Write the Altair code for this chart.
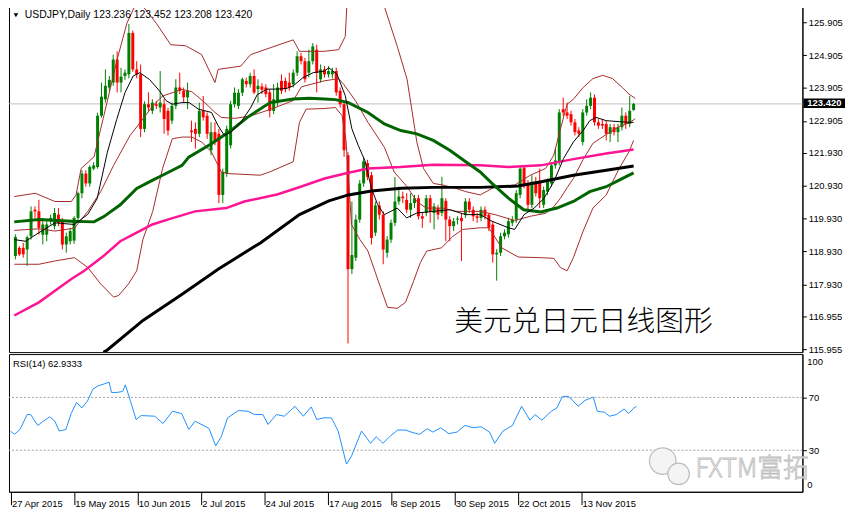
import altair as alt
import pandas as pd

# ---------------- data ----------------
date_labels = ["27 Apr 2015", "19 May 2015", "10 Jun 2015", "2 Jul 2015", "24 Jul 2015",
               "17 Aug 2015", "8 Sep 2015", "30 Sep 2015", "22 Oct 2015", "13 Nov 2015"]
date_label_idx = [0, 16, 32, 48, 64, 80, 96, 112, 128, 144]

opens = [118.79,119.04,119.04,118.99,119.39,120.20,120.15,119.44,119.44,119.85,
119.70,120.05,119.85,119.14,119.24,119.26,119.95,120.70,121.30,121.00,
121.45,121.50,123.06,123.56,123.92,124.07,124.77,124.07,124.27,124.32,
125.58,124.47,124.32,122.66,123.41,123.21,123.41,123.31,123.41,123.21,
122.91,123.36,123.92,123.82,123.62,122.61,122.66,122.51,123.21,123.06,
122.01,122.56,122.51,120.65,121.30,122.16,123.41,123.36,123.76,124.12,
124.02,124.27,123.87,123.95,123.92,123.77,123.21,123.46,124.12,124.12,
124.07,124.02,124.37,124.87,124.72,124.37,124.72,125.07,124.17,124.47,
124.32,124.32,124.42,123.82,123.41,121.86,118.39,118.74,119.90,121.00,
121.62,121.25,119.50,120.33,120.05,118.89,119.29,119.80,120.45,120.60,
120.50,120.20,120.40,120.55,120.00,120.10,120.55,120.10,120.25,120.10,
120.47,119.90,119.70,119.90,119.95,120.05,120.45,120.20,120.00,119.95,
120.20,120.05,119.75,118.84,118.89,119.39,119.45,119.80,119.90,120.65,
121.48,121.00,120.35,121.05,121.05,120.35,120.75,121.00,121.55,121.65,
123.26,123.16,123.11,122.86,122.61,122.26,123.16,123.36,123.61,122.86,
122.81,122.81,122.51,122.71,122.56,122.71,123.06,122.81,123.236]

highs = [119.45,119.09,119.19,119.41,120.30,120.30,120.50,119.95,119.85,120.05,
120.25,120.25,119.95,119.50,119.65,120.00,120.75,121.40,121.40,121.55,
121.65,123.15,124.07,124.47,124.27,124.92,125.02,124.52,124.47,125.85,
125.65,124.72,124.62,123.50,123.77,123.56,123.51,124.42,123.56,123.30,
123.46,124.17,124.37,123.92,124.07,122.91,122.86,123.46,123.66,123.16,
122.86,122.86,122.66,121.45,122.76,123.51,123.92,123.87,124.22,124.22,
124.37,124.47,124.17,124.05,124.02,123.87,124.02,124.07,124.32,124.22,
124.37,124.47,125.02,124.97,124.82,125.07,125.27,125.22,124.62,124.57,
124.57,124.52,124.52,123.92,123.46,121.95,120.45,120.05,121.10,121.80,
121.72,121.35,120.45,120.45,120.15,119.40,119.90,121.20,120.90,120.75,
120.70,120.70,120.65,120.65,120.10,120.65,120.65,120.40,120.35,121.20,
120.55,120.00,119.95,120.00,120.10,120.55,120.55,120.30,120.10,120.30,
120.30,120.10,119.85,119.00,119.50,119.60,119.95,120.00,120.80,121.55,
121.55,121.10,121.25,121.20,121.45,120.90,121.15,121.65,122.06,123.26,
123.61,123.46,123.21,122.96,122.71,123.26,123.56,123.77,123.71,122.96,
122.96,122.91,122.81,122.81,122.81,123.31,123.16,123.66,123.452]

lows = [118.69,118.79,118.74,118.49,119.29,119.95,119.44,119.14,119.24,119.75,
119.60,119.70,118.99,118.89,119.14,119.16,119.85,120.55,120.90,120.90,
121.40,121.45,123.00,123.46,123.80,123.97,123.77,123.77,124.15,124.20,
124.40,124.20,122.41,122.56,123.20,123.11,123.26,123.16,122.51,122.46,
122.81,123.26,123.72,123.46,123.26,122.26,122.06,122.41,122.91,122.36,
121.86,122.16,120.40,120.40,121.20,122.06,123.31,123.26,123.66,123.92,
123.92,123.72,123.46,123.72,123.62,123.01,123.11,123.36,123.72,123.77,
123.82,123.92,124.27,124.62,124.07,124.22,124.62,123.77,124.07,124.22,
124.22,124.20,123.67,123.31,121.81,116.13,118.24,118.64,119.80,120.90,
121.10,119.14,119.40,119.90,118.54,118.74,119.19,119.70,120.35,120.40,
120.10,119.95,120.25,119.90,119.65,120.00,119.80,119.60,119.90,120.00,
119.24,119.24,119.55,119.75,118.64,119.95,120.10,119.85,119.80,119.85,
119.90,119.55,118.59,118.04,118.79,119.30,119.35,119.70,119.80,120.55,
120.85,120.15,120.25,120.60,120.25,120.25,120.65,120.90,121.45,121.55,
123.05,122.96,122.76,122.46,122.41,122.16,123.06,123.26,122.76,122.66,
122.66,122.31,122.26,122.46,122.26,122.61,122.66,122.71,123.208]

closes = [119.37,118.84,118.84,119.36,120.15,120.15,119.65,119.75,119.75,119.95,
120.10,119.80,119.14,119.39,119.55,119.95,120.70,121.30,121.00,121.50,
121.55,123.06,123.64,123.97,124.15,124.77,124.07,124.25,124.37,125.58,
124.47,124.32,122.66,123.41,123.31,123.46,123.36,123.46,122.96,122.61,
123.36,123.92,123.82,123.62,123.82,122.56,122.51,123.21,123.01,122.51,
122.56,122.26,120.65,121.35,122.66,123.41,123.76,123.76,124.17,124.02,
124.27,123.77,123.97,123.85,123.72,123.21,123.56,123.92,123.82,123.87,
123.92,124.37,124.87,124.72,124.17,124.72,125.17,124.37,124.47,124.32,
124.42,124.42,123.77,123.41,122.01,118.39,118.82,119.90,121.00,121.67,
121.20,119.34,120.33,120.05,118.99,119.29,119.80,120.45,120.60,120.55,
120.20,120.40,120.55,120.00,119.93,120.55,120.15,120.30,120.05,120.55,
119.90,119.70,119.85,119.93,119.85,120.45,120.20,120.00,119.95,120.20,
120.00,119.65,118.84,118.89,119.39,119.50,119.85,119.90,120.70,121.45,
120.95,120.35,121.05,120.70,120.55,120.80,121.05,121.55,121.70,123.16,
123.16,123.06,122.86,122.56,122.51,123.16,123.36,123.61,122.86,122.76,
122.76,122.51,122.71,122.56,122.71,123.06,122.81,123.21,123.420]

# fast moving average (thin black)
ma_fast_idx = [-0.3,2.6,6,10.1,15.1,18.5,20.9,23.5,25.9,28.0,30.1,31.8,34.3,36.8,38.5,40.1,42.6,44.4,46.8,50.1,
               51.8,53.4,55.1,57.6,60.1,61.8,64.3,66.8,69.3,71,73.5,76.1,79,80.1,82.2,84.3,86,87.6,89.3,91,
               92.6,94.3,97.6,100,102.6,106.8,111,115.1,118.8,121.8,126,127.6,130,132.6,135.1,137.6,140.1,142.6,145.1,146.8,
               148.4,151,154.3,156.8,158]
ma_fast_val = [119.29,119.24,119.50,119.80,119.75,120.06,120.54,121.95,122.95,123.76,124.27,124.37,124.16,123.82,123.52,123.41,123.46,123.46,123.26,123.16,
               122.76,122.46,122.56,122.86,123.30,123.70,123.87,123.87,123.89,123.97,124.22,124.37,124.42,124.52,124.32,123.67,122.66,122.16,121.70,120.85,
               120.35,120.05,120.25,119.95,120.10,120.15,120.20,120.05,120.05,119.85,119.65,119.60,120.05,120.25,120.55,121.05,121.76,122.26,122.61,122.91,
               123.01,122.91,122.88,122.86,122.86]

# medium moving average (thick green)
ma_green_idx = [-0.3,6,14.3,20.1,22.6,26.8,31,35.1,37.6,42.6,44.3,50.1,55.1,59.3,65.1,71,75.1,79,81.8,85.1,
                90.1,94.3,98.5,102.6,106.8,111,115.1,118.8,121.8,126,129.9,134.3,138.4,142.6,146.8,151,154.3,158]
ma_green_val = [119.83,119.90,119.85,119.83,119.99,120.35,120.85,121.10,121.25,121.55,121.80,122.21,122.61,123.01,123.46,123.57,123.59,123.57,123.55,123.46,
                123.16,122.81,122.61,122.51,122.31,122.01,121.66,121.35,121.00,120.55,120.20,120.13,120.25,120.45,120.75,120.90,121.10,121.32]

# slow moving average (magenta)
ma_pink_idx = [-0.3,6,14.3,17.6,22.6,26.8,31,35,38.9,45.9,53.9,58.5,67.1,72.9,79,84.3,90.1,98.4,106.8,118.8,
               126,134.3,142.6,151,158]
ma_pink_val = [116.98,117.38,118.09,118.34,118.80,119.24,119.50,119.75,119.90,120.15,120.25,120.45,120.67,120.90,121.15,121.30,121.455,121.50,121.57,121.55,
               121.50,121.55,121.74,121.91,122.03]

# slowest moving average (thick black)
ma_black_idx = [22.5,23.5,32.6,42.6,51.8,62.6,72.6,80.1,85.1,91,98.6,106.8,118.8,128.5,134.4,142.6,151,158]
ma_black_val = [115.86,115.93,116.83,117.63,118.39,119.19,120.05,120.47,120.65,120.77,120.85,120.88,120.88,120.92,121.05,121.25,121.40,121.53]

# Bollinger bands (brown)
bb_up_idx = [-0.3,5.1,10.1,14.3,15.5,16.8,20.1,22.6,26,28.5,30.5,31.5,32.6,36,39.7,43.5,47.6,51,51.8,57.6,
             60.1,71,72.6,78.9,82.6,84.3,84.7,87.5,91,93.8,94.3,97.6,100.1,102.6,104.3,106.8,109.3,112.6,115.1,118.8,
             122.6,127.6,131.6,135.5,137.6,139.3,141,142.6,145.1,147.6,150.1,152.6,155.1,156.8,158.4]
bb_up_val = [120.60,120.70,120.45,120.45,120.65,121.455,121.81,123.06,124.77,125.88,126.39,126.60,126.39,125.875,125.22,125.19,124.92,124.07,124.47,124.57,
             124.92,125.37,125.02,125.02,125.07,125.47,126.39,127.60,127.80,126.70,126.38,125.17,124.17,122.26,121.455,121.00,120.95,120.85,120.75,120.65,
             120.90,120.95,121.25,121.455,121.86,122.66,123.41,123.56,123.92,124.19,124.29,124.19,123.92,123.72,123.59]

bb_mid_idx = [-0.3,6,10.1,15.1,18.5,21.8,25.1,29.3,32.6,35.1,37.6,42.6,45.1,48.4,51,52.6,56,60,65.1,71,
              73.1,78.9,82.6,84,87,90.1,94.3,96.8,100.1,102.6,105,109.3,112.6,118.8,122.6,127.6,131.6,135.5,137.6,139.3,
              141,142.6,145.1,147.6,151,154.3,156.8,158.4]
bb_mid_val = [119.57,119.62,119.55,119.64,120.15,120.75,121.55,122.46,122.96,123.36,123.66,123.86,123.79,123.46,123.16,123.01,122.98,123.05,123.25,123.52,
              123.94,124.12,124.19,124.00,123.50,122.86,122.10,121.35,120.90,120.45,120.25,120.25,120.15,120.15,120.05,119.87,120.00,120.09,120.29,120.55,
              120.87,121.15,121.73,122.22,122.49,122.73,122.84,122.97]

bb_lo_idx = [-0.3,6,10.1,15.1,18.5,21.8,25.1,26.4,28.9,31,32.6,35.1,37.6,40.1,42.6,45.1,47.6,50.1,52.6,54.3,
             62.6,65.1,71,72.6,74.3,78.9,81.8,83.5,84.5,85.9,88,90.1,93.3,95.1,97.6,99.7,101.8,103.5,105.1,108.9,
             111.8,114.3,118.8,121,124.3,128.5,134.3,137.6,139.3,141,142.6,145.1,147.6,151,154.3,156.8,158]
bb_lo_val = [118.54,118.54,118.64,118.74,118.44,117.94,117.54,117.59,117.94,118.34,119.30,120.15,121.45,122.36,122.41,122.41,122.26,121.96,121.355,121.30,
             121.25,121.355,121.66,122.86,123.26,123.28,123.31,123.06,122.30,119.75,119.30,118.94,117.84,117.23,117.20,117.38,118.04,118.59,118.94,119.04,
             119.39,119.60,119.65,119.65,119.04,118.76,118.74,118.72,118.44,118.34,118.74,119.55,120.25,120.65,121.455,121.96,122.31]

# RSI(14)
rsi_idx = [0,1.0,2.4,4.2,5.1,6.9,8.3,9.9,11.2,12.3,14,15.3,16.7,18,19.4,20.8,22.1,24.2,24.9,25.5,
           26.9,28.3,29,30.3,31.7,33,36.4,38.5,40.9,43.2,45,46.6,50.1,51.8,53.2,54.8,57.5,60,61.6,63.7,
           65,67.1,69.1,71.8,73.9,75.9,77.3,79.1,81,82.7,84.8,86.1,88.6,90.9,92.3,94,95.7,97.7,99.8,101.1,
           103.2,105.2,106.6,108.6,110.6,112.7,114.7,116.8,118.8,120.9,122.2,124.3,126.7,129,131.1,132.4,134.1,136.5,137.9,139.3,
           140.9,143.3,145,147.1,148.1,149.9,151.2,152.9,154.9,156,157.6,158]
rsi_val = [44.5,42,45.75,57,57,48.75,52,55.25,52,44.5,45.75,57.75,66.25,62,67,76.25,78.75,80.75,81.5,73.75,
           73.75,74.5,79.5,67,53.25,56.25,55.75,50.25,59.5,57.75,45.75,52,46.5,33.25,40.25,54.5,60,59.5,57,57,
           49.5,57,55.75,63.25,55.75,62.75,53.25,54.5,54.5,44.5,19.5,25.75,44.5,35.25,40.25,35.25,40.25,45.25,45.25,43.75,
           42,46.25,43.75,47,42.5,43.75,48.75,47,47.75,43.75,35.25,44.5,48.75,63.25,52.75,57,52.75,59.5,62,70.75,
           70.75,63.25,67.75,70.25,59.5,58.75,55.75,57,61.25,57.75,62.75,62.93]

price_ticks = [125.905, 124.905, 123.905, 122.905, 121.930, 120.930, 119.930, 118.930, 117.930, 116.955, 115.955]
rsi_levels = [30, 70]
last_price = 123.420
header = "USDJPY,Daily  123.236 123.452 123.208 123.420"
rsi_header = "RSI(14) 62.9333"
title_cn = "美元兑日元日线图形"
watermark = "FXTM富拓"

# ---------------- layout constants ----------------
W = 801
H_MAIN = 349
H_RSI = 139
FONT = "Liberation Sans"

xscale = alt.Scale(domain=[-0.375, 199.875], nice=False, zero=False)
yscale = alt.Scale(domain=[115.866, 126.387], nice=False, zero=False)
rscale = alt.Scale(domain=[-1.5, 102.8], nice=False, zero=False)

price_axis = alt.Axis(orient="right", values=price_ticks, format=".3f", labelFont=FONT,
                      labelFontSize=9.5, labelColor="black", tickColor="black", tickSize=4,
                      labelPadding=2, domainColor="black", grid=False, title=None, labelFlush=False)

label_js = "[" + ",".join("'" + s + "'" for s in date_labels) + "]"
x_axis = alt.Axis(values=date_label_idx, labelExpr=label_js + "[round(datum.value/16)]",
                  labelAlign="left", labelBaseline="top", labelFlush=False, labelFont=FONT,
                  labelFontSize=9.5, labelColor="black", tickColor="black", tickSize=13,
                  labelPadding=-6, labelOffset=1, domainColor="black", grid=False, title=None,
                  labelOverlap=False)
rsi_axis = alt.Axis(orient="right", values=rsi_levels, labelFont=FONT, labelFontSize=9.5,
                    labelColor="black", tickColor="black", tickSize=4, labelPadding=2,
                    domainColor="black", grid=False, title=None)

X = alt.X("i:Q", scale=xscale, axis=None, title=None)


def YP(field):
    return alt.Y(field, type="quantitative", scale=yscale, axis=price_axis, title=None)


def XR(field):
    return alt.X(field, type="quantitative", scale=xscale, axis=x_axis, title=None)


def YR(field):
    return alt.Y(field, type="quantitative", scale=rscale, axis=rsi_axis, title=None)


# candles
n = len(opens)
rows = []
for k in range(n):
    o, h, l, c = opens[k], highs[k], lows[k], closes[k]
    blo, bhi = min(o, c), max(o, c)
    if bhi - blo < 0.03:
        mid = (blo + bhi) / 2
        blo, bhi = mid - 0.015, mid + 0.015
    rows.append({"i": k, "o": o, "h": max(h, o, c), "l": min(l, o, c), "c": c,
                 "blo": blo, "bhi": bhi, "dir": "up" if c >= o else "down"})
cdf = pd.DataFrame(rows)
col = alt.Color("dir:N", scale=alt.Scale(domain=["up", "down"], range=["#008000", "#ff0000"]), legend=None)

price_line = alt.Chart(pd.DataFrame({"p": [last_price]})).mark_rule(color="#c0c0c0", strokeWidth=1).encode(
    y=YP("p"))
wicks = alt.Chart(cdf).mark_rule(strokeWidth=1).encode(x=X, y=YP("l"), y2="h:Q", color=col)
bodies = alt.Chart(cdf).mark_bar(size=3).encode(x=X, y=YP("blo"), y2="bhi:Q", color=col)


def line_layer(idx, vals, color, width):
    df = pd.DataFrame({"i": idx, "p": vals})
    return alt.Chart(df).mark_line(color=color, strokeWidth=width, clip=True).encode(x=X, y=YP("p"))


bb_up = line_layer(bb_up_idx, bb_up_val, "#a52a2a", 1)
bb_mid = line_layer(bb_mid_idx, bb_mid_val, "#a52a2a", 1)
bb_lo = line_layer(bb_lo_idx, bb_lo_val, "#a52a2a", 1)
pink = line_layer(ma_pink_idx, ma_pink_val, "#ff1493", 2.5)
blk = line_layer(ma_black_idx, ma_black_val, "#000000", 3)
grn = line_layer(ma_green_idx, ma_green_val, "#006400", 3)
fast = line_layer(ma_fast_idx, ma_fast_val, "#000000", 1)

hdr_df = pd.DataFrame({"t": [header]})
hdr_tri = alt.Chart(hdr_df).mark_point(shape="triangle-down", filled=True, color="black", size=22, opacity=1).encode(
    x=alt.value(7), y=alt.value(9))
hdr_txt = alt.Chart(hdr_df).mark_text(align="left", baseline="middle", font=FONT, fontSize=10.5, color="black").encode(
    x=alt.value(16), y=alt.value(9), text="t:N")
cn_txt = alt.Chart(pd.DataFrame({"t": [title_cn]})).mark_text(
    align="center", baseline="middle", font="Noto Sans CJK SC", fontSize=29, fontWeight=300, color="black").encode(
    x=alt.value(580), y=alt.value(319), text="t:N")

box_df = pd.DataFrame({"top": [last_price + 0.165], "bot": [last_price - 0.125],
                       "mid": [last_price + 0.02], "t": [f"{last_price:.3f}"]})
box = alt.Chart(box_df).mark_rect(color="black").encode(
    x=alt.value(W + 1), x2=alt.value(W + 43), y=YP("top"), y2="bot:Q")
box_txt = alt.Chart(box_df).mark_text(
    align="left", baseline="middle", font=FONT, fontSize=9.5, color="white", fontWeight="bold").encode(
    x=alt.value(W + 5), y=YP("mid"), text="t:N")

main = alt.layer(price_line, wicks, bodies, bb_up, bb_mid, bb_lo, pink, blk, grn, fast,
                 hdr_tri, hdr_txt, cn_txt, box, box_txt).properties(width=W, height=H_MAIN)

# ---------------- RSI panel ----------------
rdf = pd.DataFrame({"i": rsi_idx, "v": rsi_val})
rsi_line = alt.Chart(rdf).mark_line(color="#1e90ff", strokeWidth=1).encode(x=XR("i"), y=YR("v"))
levels = alt.Chart(pd.DataFrame({"v": rsi_levels})).mark_rule(
    color="#a0a0a0", strokeDash=[2, 2], strokeWidth=1).encode(y=YR("v"))
edge_df = pd.DataFrame({"t": ["100", "0"], "yy": [8, 132]})
edge_lbl = alt.Chart(edge_df).mark_text(align="left", baseline="middle", font=FONT, fontSize=9.5,
                                         color="black").encode(
    x=alt.value(W + 5), y=alt.Y("yy:Q", scale=None), text="t:N")
rsi_txt = alt.Chart(pd.DataFrame({"t": [rsi_header]})).mark_text(
    align="left", baseline="middle", font=FONT, fontSize=9.5, color="black").encode(
    x=alt.value(4), y=alt.value(10), text="t:N")
wm_txt = alt.Chart(pd.DataFrame({"t": [watermark]})).mark_text(
    align="left", baseline="middle", font="Noto Sans CJK SC", fontSize=26, fontWeight=300,
    fill="#f4f4f4", stroke="#bdbdbd", strokeWidth=0.8).encode(
    x=alt.value(693), y=alt.value(116), text="t:N")
wm_icon = alt.Chart(pd.DataFrame({"s": [720, 470], "xx": [660, 676], "yy": [108, 121]})).mark_point(
    shape="circle", filled=True, fill="#f4f4f4", stroke="#bdbdbd", strokeWidth=1.2, opacity=1).encode(
    x=alt.X("xx:Q", scale=None), y=alt.Y("yy:Q", scale=None), size=alt.Size("s:Q", scale=None, legend=None))

rsi = alt.layer(rsi_line, levels, edge_lbl, rsi_txt, wm_icon, wm_txt).properties(width=W, height=H_RSI)

chart = alt.vconcat(main, rsi, spacing=2, bounds="flush").properties(
    padding={"left": 0, "top": -5, "right": 0, "bottom": 0},
    background="white"
).configure_view(stroke="black", strokeWidth=1).configure_concat(spacing=2)

chart.save("out.html", embed_options={"renderer": "svg", "actions": False})
